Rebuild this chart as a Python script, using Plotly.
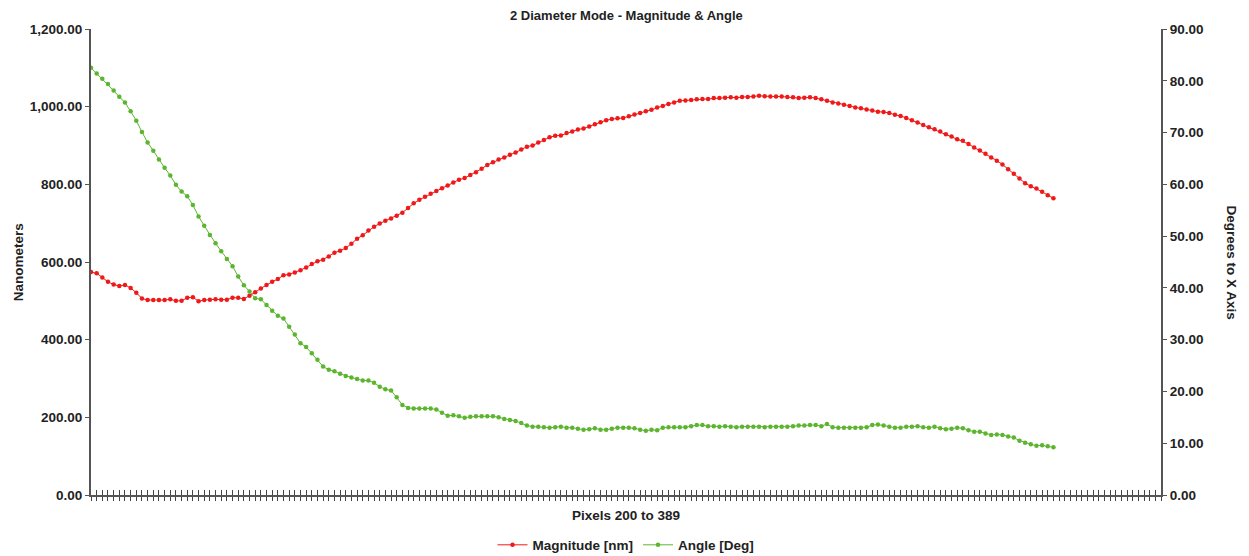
import plotly.graph_objects as go

pixels = list(range(200, 371))

magnitude_nm = [
    574, 571, 560, 549, 542, 538, 541, 533, 521, 506,
    502, 502, 502, 502, 504, 500, 500, 508, 509, 499,
    502, 503, 504, 503, 503, 508, 508, 505, 513, 522,
    532, 541, 549, 556, 566, 568, 573, 579, 586, 595,
    602, 606, 614, 624, 629, 636, 647, 660, 669, 681,
    691, 699, 706, 712, 719, 727, 739, 751, 760, 768,
    776, 783, 790, 797, 805, 812, 816, 824, 831, 840,
    850, 857, 864, 869, 876, 882, 890, 897, 900, 908,
    914, 921, 925, 926, 932, 936, 941, 944, 949, 955,
    960, 965, 968, 970, 971, 975, 980, 984, 988, 992,
    998, 1002, 1007, 1011, 1015, 1016, 1017, 1019, 1020, 1020,
    1022, 1022, 1023, 1024, 1023, 1025, 1025, 1026, 1028, 1027,
    1026, 1026, 1026, 1025, 1024, 1022, 1023, 1024, 1022, 1019,
    1015, 1011, 1008, 1005, 1002, 998, 996, 993, 990, 987,
    986, 984, 979, 976, 971, 965, 959, 953, 947, 942,
    936, 929, 923, 916, 912, 904, 895, 887, 879, 869,
    861, 851, 839, 827, 815, 803, 795, 789, 781, 772,
    764,
]

angle_deg = [
    82.5, 81.4, 80.4, 79.4, 78.1, 76.9, 75.8, 74.1, 72.3, 70.1,
    68.1, 66.5, 64.8, 63.2, 61.7, 59.9, 58.6, 57.7, 56.0, 53.8,
    52.0, 50.2, 48.6, 47.1, 45.6, 44.2, 42.2, 40.5, 39.3, 38.0,
    37.8, 36.7, 35.6, 34.6, 34.1, 32.5, 31.0, 29.3, 28.6, 27.4,
    26.1, 24.8, 24.2, 23.9, 23.4, 23.0, 22.7, 22.4, 22.1, 22.1,
    21.7, 20.9, 20.4, 20.2, 18.9, 17.4, 16.8, 16.7, 16.7, 16.7,
    16.7, 16.5, 15.9, 15.3, 15.4, 15.2, 14.9, 15.1, 15.2, 15.2,
    15.2, 15.2, 15.0, 14.7, 14.5, 14.3, 13.9, 13.4, 13.2, 13.2,
    13.1, 13.0, 13.1, 13.2, 13.0, 13.0, 12.8, 12.6, 12.7, 12.9,
    12.6, 12.6, 12.8, 13.0, 13.0, 13.0, 12.9, 12.6, 12.4, 12.6,
    12.5, 13.0, 13.1, 13.1, 13.1, 13.1, 13.3, 13.5, 13.5, 13.3,
    13.3, 13.2, 13.3, 13.2, 13.1, 13.2, 13.2, 13.2, 13.2, 13.1,
    13.2, 13.2, 13.2, 13.2, 13.3, 13.4, 13.4, 13.5, 13.5, 13.3,
    13.7, 13.1, 13.0, 13.0, 13.0, 13.0, 13.0, 13.1, 13.5, 13.6,
    13.4, 13.2, 13.0, 13.0, 13.2, 13.2, 13.3, 13.1, 13.0, 13.2,
    12.9, 12.7, 12.8, 13.0, 12.9, 12.5, 12.2, 12.2, 11.9, 11.6,
    11.7, 11.6, 11.3, 11.1, 10.5, 10.1, 9.8, 9.5, 9.6, 9.4,
    9.2,
]

x_range = [200, 389]
left_ticks = [0, 200, 400, 600, 800, 1000, 1200]
right_ticks = [0, 10, 20, 30, 40, 50, 60, 70, 80, 90]

RED = "#f01818"
GREEN = "#5cb52e"
AXIS = "#555555"
TXT = "#222222"
FONT = "Liberation Sans, Arial, sans-serif"

fig = go.Figure()
fig.add_trace(go.Scatter(
    x=pixels, y=magnitude_nm, name="Magnitude [nm]", mode="lines+markers",
    line=dict(color=RED, width=1), marker=dict(color=RED, size=4.5),
    xaxis="x", yaxis="y",
))
fig.add_trace(go.Scatter(
    x=pixels, y=angle_deg, name="Angle [Deg]", mode="lines+markers",
    line=dict(color=GREEN, width=1), marker=dict(color=GREEN, size=4.5),
    xaxis="x", yaxis="y2",
))
# invisible helper trace so the overlaid x axis (inner tick marks) is drawn
fig.add_trace(go.Scatter(x=[pixels[0]], y=[magnitude_nm[0]], xaxis="x2", yaxis="y", mode="markers",
                         marker=dict(opacity=0), showlegend=False, hoverinfo="skip"))

tickfont = dict(family=FONT, size=13.5, color=TXT, weight="bold")
lblfont = dict(family=FONT, size=13.5, color=TXT, weight="bold")

fig.update_layout(
    width=1241, height=548,
    margin=dict(l=83, r=88, t=21, b=61, autoexpand=False),
    paper_bgcolor="white", plot_bgcolor="white",
    showlegend=True,
    legend=dict(orientation="h", x=0.5, xanchor="center", xref="paper",
                y=0.02, yanchor="middle", yref="container",
                font=dict(family=FONT, size=13.5, color=TXT, weight="bold"),
                itemwidth=30, bgcolor="rgba(0,0,0,0)"),
    xaxis=dict(range=x_range, dtick=1, tick0=200, showticklabels=False, automargin=False,
               showgrid=False, zeroline=False, showline=True, linecolor=AXIS, linewidth=2,
               ticks="outside", ticklen=4, tickcolor="#444", tickwidth=1),
    xaxis2=dict(range=x_range, dtick=1, tick0=200, showticklabels=False, overlaying="x",
                side="bottom", automargin=False,
                showgrid=False, zeroline=False, showline=False,
                ticks="inside", ticklen=5, tickcolor="#444", tickwidth=1, anchor="y"),
    yaxis=dict(range=[0, 1200], tickvals=left_ticks, tickformat=",.2f", automargin=False,
               showgrid=False, zeroline=False, showline=True, linecolor=AXIS, linewidth=2,
               ticks="outside", ticklen=4, tickcolor=AXIS, tickfont=tickfont),
    yaxis2=dict(range=[0, 90], tickvals=right_ticks, tickformat=".2f", overlaying="y", side="right",
                automargin=False,
                showgrid=False, zeroline=False, showline=True, linecolor=AXIS, linewidth=2,
                ticks="outside", ticklen=4, tickcolor=AXIS, tickfont=tickfont, anchor="x"),
    annotations=[
        dict(text="2 Diameter Mode - Magnitude & Angle", xref="paper", yref="paper",
             x=0.5, y=1.03, xanchor="center", yanchor="middle", showarrow=False,
             font=dict(family=FONT, size=13, color=TXT, weight="bold")),
        dict(text="Pixels 200 to 389", xref="paper", yref="paper",
             x=0.5, y=-0.043, xanchor="center", yanchor="middle", showarrow=False,
             font=lblfont),
        dict(text="Nanometers", xref="paper", yref="paper", textangle=-90,
             x=-0.068, y=0.5, xanchor="center", yanchor="middle", showarrow=False,
             font=lblfont),
        dict(text="Degrees to X Axis", xref="paper", yref="paper", textangle=90,
             x=1.066, y=0.5, xanchor="center", yanchor="middle", showarrow=False,
             font=lblfont),
    ],
)

fig.write_html("out.html")
